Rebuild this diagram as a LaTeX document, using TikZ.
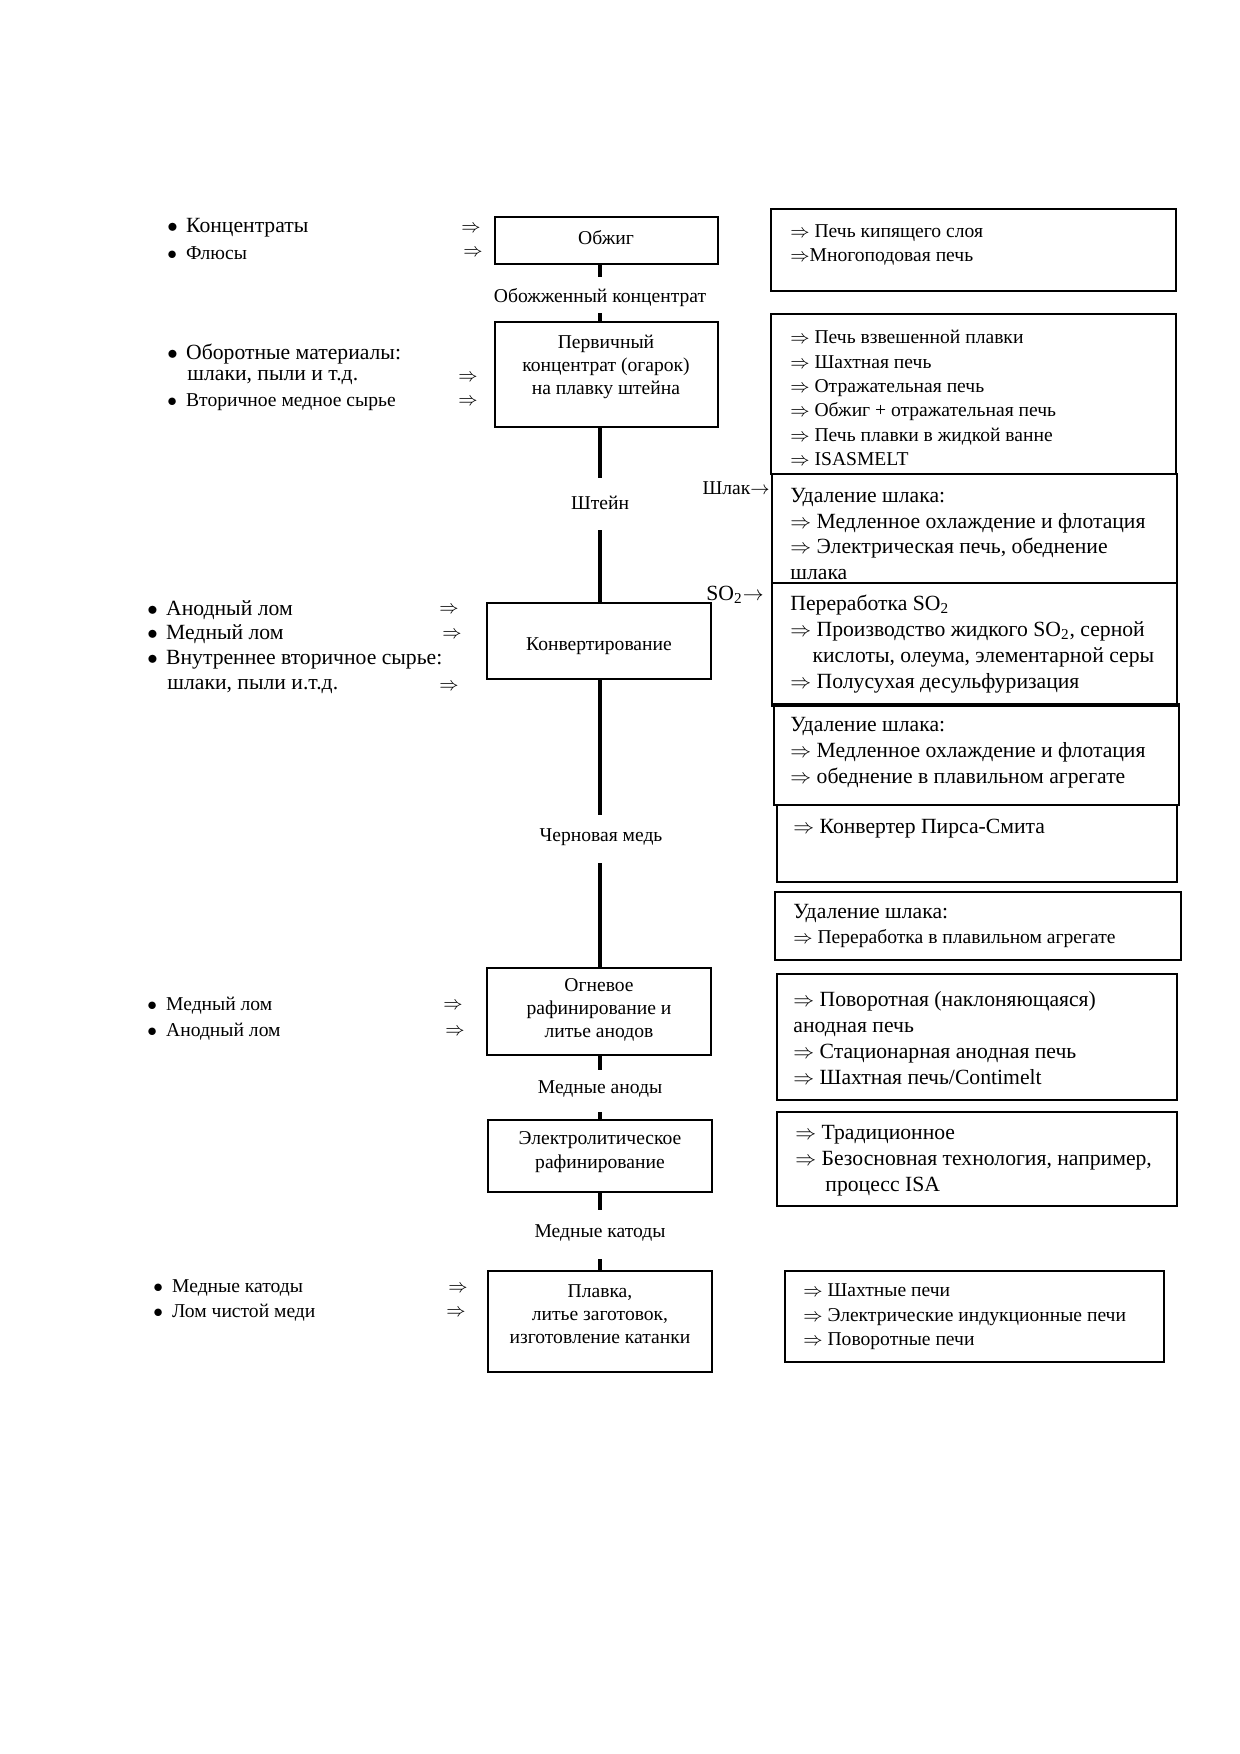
\documentclass[tikz,border=0pt]{standalone}
\usepackage{fontspec}
\setmainfont{Liberation Serif}
\usetikzlibrary{fit}
\newcommand\blt{\makebox[9pt][l]{$\bullet$}}
\begin{document}
\begin{tikzpicture}[x=0.48pt,y=-0.48pt,
  sm/.style={font=\fontsize{9.4}{11.7}\selectfont},
  csm/.style={font=\fontsize{9.4}{11.2}\selectfont},
  lg/.style={font=\fontsize{10.4}{12.4}\selectfont},
  frame/.style={draw, line width=1pt, inner sep=0pt},
  flow/.style={line width=2.2pt},
  txt/.style={inner sep=0pt, align=left, anchor=west},
  ctxt/.style={inner sep=0pt, align=center, csm},
  arr/.style={inner sep=0pt, sm},
]
\fill[white] (0,0) rectangle (1240,1754);
\useasboundingbox (0,0) rectangle (1240,1754);

% ---------- left inputs ----------
\node[txt,lg] (i1) at (167,228) {\blt Концентраты};
\node[txt,sm] (i2) at (167,253) {\blt Флюсы};
\node[arr] (a1) at (471,229) {$\Rightarrow$};
\node[arr] (a2) at (473,253) {$\Rightarrow$};

\node[txt,lg] (i3) at (167,354) {\blt Оборотные материалы:};
\node[txt,lg] (i4) at (187,378) {шлаки, пыли и т.д.};
\node[txt,sm] (i5) at (167,402) {\blt Вторичное медное сырье};
\node[arr] (a3) at (468,378) {$\Rightarrow$};
\node[arr] (a4) at (468,402) {$\Rightarrow$};

\node[txt,lg] (i6) at (147,610) {\blt Анодный лом};
\node[txt,lg] (i7) at (147,634) {\blt Медный лом};
\node[txt,lg] (i8) at (147,660) {\blt Внутреннее вторичное сырье:};
\node[txt,lg] (i9) at (167,686) {шлаки, пыли и.т.д.};
\node[arr] (a5) at (449,610) {$\Rightarrow$};
\node[arr] (a6) at (452,635) {$\Rightarrow$};
\node[arr] (a7) at (449,687) {$\Rightarrow$};

\node[txt,sm] (i10) at (147,1006) {\blt Медный лом};
\node[txt,sm] (i11) at (147,1032) {\blt Анодный лом};
\node[arr] (a8) at (453,1006) {$\Rightarrow$};
\node[arr] (a9) at (455,1032) {$\Rightarrow$};

\node[txt,sm] (i12) at (153,1288) {\blt Медные катоды};
\node[txt,sm] (i13) at (153,1313) {\blt Лом чистой меди};
\node[arr] (a10) at (458,1289) {$\Rightarrow$};
\node[arr] (a11) at (456,1313) {$\Rightarrow$};

% ---------- centre column ----------
\node[frame, fit={(495,217) (718,264)}] (b1) {};
\node[frame, fit={(495,322) (718,427)}] (b2) {};
\node[frame, fit={(487,603) (711,679)}] (b3) {};
\node[frame, fit={(487,968) (711,1055)}] (b4) {};
\node[frame, fit={(488,1120) (712,1192)}] (b5) {};
\node[frame, fit={(488,1271) (712,1372)}] (b6) {};

\node[ctxt] (t1) at (606,238) {Обжиг};
\node[ctxt] (t2) at (606,367) {Первичный\\концентрат (огарок)\\на плавку штейна};
\node[ctxt] (t3) at (599,646) {Конвертирование};
\node[ctxt] (t4) at (599,1010) {Огневое\\рафинирование и\\литье анодов};
\node[ctxt] (t5) at (600,1152) {Электролитическое\\рафинирование};
\node[ctxt] (t6) at (600,1314) {Плавка,\\литье заготовок,\\изготовление катанки};

\node[ctxt] (l1) at (600,298) {Обожженный концентрат};
\node[ctxt] (l2) at (600,503) {Штейн};
\node[ctxt] (l3) at (601,837) {Черновая медь};
\node[ctxt] (l4) at (600,1089) {Медные аноды};
\node[ctxt] (l5) at (600,1233) {Медные катоды};

\coordinate (f1a) at (600,277);  \coordinate (f1b) at (600,313);
\coordinate (f2a) at (600,478);  \coordinate (f2b) at (600,530);
\coordinate (f3a) at (600,815);  \coordinate (f3b) at (600,863);
\coordinate (f4a) at (600,1070); \coordinate (f4b) at (600,1112);
\coordinate (f5a) at (600,1210); \coordinate (f5b) at (600,1259);

\draw[flow] (f1a |- b1.south) -- (f1a);  \draw[flow] (f1b) -- (f1b |- b2.north);
\draw[flow] (f2a |- b2.south) -- (f2a);  \draw[flow] (f2b) -- (f2b |- b3.north);
\draw[flow] (f3a |- b3.south) -- (f3a);  \draw[flow] (f3b) -- (f3b |- b4.north);
\draw[flow] (f4a |- b4.south) -- (f4a);  \draw[flow] (f4b) -- (f4b |- b5.north);
\draw[flow] (f5a |- b5.south) -- (f5a);  \draw[flow] (f5b) -- (f5b |- b6.north);

% ---------- right column ----------
\node[frame, fit={(771,209) (1176,291)}] (r1) {};
\node[frame, fit={(771,314) (1176,474)}] (r2) {};
\node[frame, fit={(772,474) (1177,583)}] (r3) {};
\node[frame, fit={(772,583) (1177,706)}] (r4) {};
\node[frame, fit={(774,704) (1179,805)}] (r5) {};
\node[frame, fit={(777,805) (1177,882)}] (r6) {};
\node[frame, fit={(775,892) (1181,960)}] (r7) {};
\node[frame, fit={(777,974) (1177,1100)}] (r8) {};
\node[frame, fit={(777,1112) (1177,1206)}] (r9) {};
\node[frame, fit={(785,1271) (1164,1362)}] (r10) {};

\node[txt,sm] (s1) at (790,245) {$\Rightarrow$ Печь кипящего слоя\\$\Rightarrow$Многоподовая печь};
\node[txt,sm] (s2) at (790,398) {$\Rightarrow$ Печь взвешенной плавки\\$\Rightarrow$ Шахтная печь\\$\Rightarrow$ Отражательная печь\\$\Rightarrow$ Обжиг + отражательная печь\\$\Rightarrow$ Печь плавки в жидкой ванне\\$\Rightarrow$ ISASMELT};
\node[txt,lg] (s3) at (790,534) {Удаление шлака:\\$\Rightarrow$ Медленное охлаждение и флотация\\$\Rightarrow$ Электрическая печь, обеднение\\шлака};
\node[txt,lg] (s4) at (790,644) {Переработка SO\textsubscript{2}\\$\Rightarrow$ Производство жидкого SO\textsubscript{2}, серной\\\hspace*{10.6pt}кислоты, олеума, элементарной серы\\$\Rightarrow$ Полусухая десульфуризация};
\node[txt,lg] (s5) at (790,753) {Удаление шлака:\\$\Rightarrow$ Медленное охлаждение и флотация\\$\Rightarrow$ обеднение в плавильном агрегате};
\node[txt,lg] (s6) at (793,829) {$\Rightarrow$ Конвертер Пирса-Смита};
\node[txt,lg] (s7a) at (793,913) {Удаление шлака:};
\node[txt,sm] (s7b) at (793,939) {$\Rightarrow$ Переработка в плавильном агрегате};
\node[txt,lg] (s8) at (793,1038) {$\Rightarrow$ Поворотная (наклоняющаяся)\\анодная печь\\$\Rightarrow$ Стационарная анодная печь\\$\Rightarrow$ Шахтная печь/Contimelt};
\node[txt,lg] (s9) at (795,1161) {$\Rightarrow$ Традиционное\\$\Rightarrow$ Безосновная технология, например,\\\hspace*{14.4pt}процесс ISA};
\node[txt,sm] (s10) at (803,1317) {$\Rightarrow$ Шахтные печи\\$\Rightarrow$ Электрические индукционные печи\\$\Rightarrow$ Поворотные печи};

\node[inner sep=0pt, sm, anchor=east] (sl) at (770,488) {Шлак$\rightarrow$};
\node[inner sep=0pt, lg, anchor=east] (so) at (764,595) {SO\textsubscript{2}$\rightarrow$};
\end{tikzpicture}
\end{document}
